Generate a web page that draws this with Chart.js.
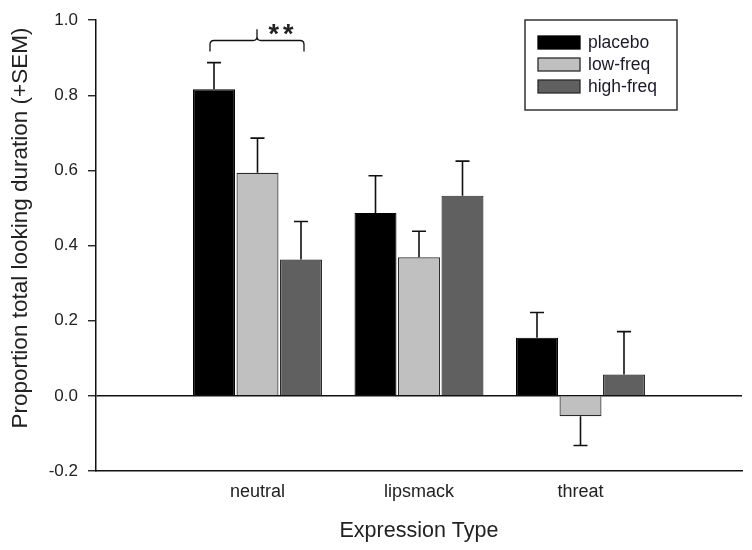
<!DOCTYPE html>
<html>
<head>
<meta charset="utf-8">
<script src="https://cdn.jsdelivr.net/npm/chart.js@4"></script>
<style>
html,body{margin:0;padding:0;background:#fff;}
#wrap{width:752px;height:550px;}
</style>
</head>
<body>
<div id="wrap"><canvas id="c" width="752" height="550"></canvas></div>
<script>
const categories = ['', 'neutral', 'lipsmack', 'threat', ''];
const seriesNames = ['placebo', 'low-freq', 'high-freq'];
const placebo = [null, 0.816, 0.487, 0.155, null];
const lowFreq = [null, 0.594, 0.369, -0.054, null];
const highFreq = [null, 0.363, 0.533, 0.057, null];
const placeboErr = [null, 0.071, 0.099, 0.067, null];
const lowFreqErr = [null, 0.092, 0.069, 0.078, null];
const highFreqErr = [null, 0.101, 0.092, 0.114, null];
const yTicks = [-0.2, 0.0, 0.2, 0.4, 0.6, 0.8, 1.0];
const xTitle = 'Expression Type';
const yTitle = 'Proportion total looking duration (+SEM)';
const sigLabel = '**';
const bracketLevels = {foot: 0.917, bar: 0.946, peak: 0.976};

const fills = ['#000000', '#c0c0c0', '#606060'];
const borders = ['#000000', '#2a2a2a', '#2a2a2a'];
const FONT = '"Liberation Sans", Arial, sans-serif';

const errorBars = {
  id: 'errorBars',
  afterDatasetsDraw(chart) {
    const ctx = chart.ctx, y = chart.scales.y;
    ctx.save();
    ctx.strokeStyle = '#111';
    ctx.lineWidth = 1.6;
    chart.data.datasets.forEach((ds, i) => {
      const meta = chart.getDatasetMeta(i);
      meta.data.forEach((bar, j) => {
        const v = ds.data[j], e = ds.err[j];
        if (v == null || e == null) return;
        const end = y.getPixelForValue(v + (v < 0 ? -e : e));
        ctx.beginPath();
        ctx.moveTo(bar.x, bar.y);
        ctx.lineTo(bar.x, end);
        ctx.moveTo(bar.x - 7, end);
        ctx.lineTo(bar.x + 7, end);
        ctx.stroke();
      });
    });
    ctx.restore();
  }
};

const extras = {
  id: 'extras',
  afterDraw(chart) {
    const ctx = chart.ctx, y = chart.scales.y;
    // y-axis title
    ctx.save();
    ctx.translate(21, 228);
    ctx.rotate(-Math.PI / 2);
    ctx.fillStyle = '#222';
    ctx.font = '22.5px ' + FONT;
    ctx.textAlign = 'center';
    ctx.textBaseline = 'middle';
    ctx.fillText(yTitle, 0, 0);
    ctx.restore();

    // significance bracket
    const xL = chart.getDatasetMeta(0).data[1].x - 4;
    const xR = chart.getDatasetMeta(2).data[1].x + 3;
    const xM = (xL + xR) / 2;
    const yF = y.getPixelForValue(bracketLevels.foot);
    const yB = y.getPixelForValue(bracketLevels.bar);
    const yP = y.getPixelForValue(bracketLevels.peak);
    const r = 4;
    ctx.save();
    ctx.strokeStyle = '#111';
    ctx.lineWidth = 1.3;
    ctx.beginPath();
    ctx.moveTo(xL, yF);
    ctx.lineTo(xL, yB + r);
    ctx.quadraticCurveTo(xL, yB, xL + r, yB);
    ctx.lineTo(xM - r, yB);
    ctx.quadraticCurveTo(xM, yB, xM, yB - r);
    ctx.lineTo(xM, yP);
    ctx.moveTo(xM, yB - r);
    ctx.quadraticCurveTo(xM, yB, xM + r, yB);
    ctx.lineTo(xR - r, yB);
    ctx.quadraticCurveTo(xR, yB, xR, yB + r);
    ctx.lineTo(xR, yF);
    ctx.stroke();
    ctx.fillStyle = '#222';
    ctx.font = 'bold 27px ' + FONT;
    try { ctx.letterSpacing = '4px'; } catch (e) {}
    ctx.textAlign = 'center';
    ctx.textBaseline = 'alphabetic';
    ctx.fillText(sigLabel, xM + 26, yP + 14);
    try { ctx.letterSpacing = '0px'; } catch (e) {}

    // legend
    const lx = 525, ly = 20, lw = 152, lh = 90;
    ctx.fillStyle = '#fff';
    ctx.fillRect(lx, ly, lw, lh);
    ctx.strokeStyle = '#333';
    ctx.lineWidth = 1.5;
    ctx.strokeRect(lx, ly, lw, lh);
    ctx.font = '17.5px ' + FONT;
    ctx.textAlign = 'left';
    ctx.textBaseline = 'middle';
    chart.data.datasets.forEach((ds, i) => {
      const sy = 36 + i * 22;
      ctx.fillStyle = ds.backgroundColor;
      ctx.fillRect(538, sy, 42, 13);
      ctx.strokeStyle = ds.borderColor;
      ctx.lineWidth = 1.3;
      ctx.strokeRect(538, sy, 42, 13);
      ctx.fillStyle = '#1a1a2a';
      ctx.fillText(ds.label, 588, sy + 7);
    });
    ctx.restore();
  }
};

new Chart(document.getElementById('c'), {
  type: 'bar',
  data: {
    labels: categories,
    datasets: [
      {label: seriesNames[0], data: placebo, err: placeboErr, backgroundColor: fills[0], borderColor: borders[0], borderWidth: 1.2},
      {label: seriesNames[1], data: lowFreq, err: lowFreqErr, backgroundColor: fills[1], borderColor: borders[1], borderWidth: 1.2},
      {label: seriesNames[2], data: highFreq, err: highFreqErr, backgroundColor: fills[2], borderColor: borders[2], borderWidth: 1.2}
    ]
  },
  options: {
    responsive: false,
    animation: false,
    devicePixelRatio: 1,
    layout: {padding: {left: 0, right: 10, top: 19, bottom: 0}},
    datasets: {bar: {categoryPercentage: 0.808, barPercentage: 0.965}},
    plugins: {legend: {display: false}, tooltip: {enabled: false}},
    scales: {
      x: {
        type: 'category',
        offset: false,
        grid: {display: false, drawTicks: false},
        border: {display: true, color: '#111', width: 1.5},
        ticks: {color: '#222', font: {family: FONT, size: 18}, padding: 10, maxRotation: 0, autoSkip: false},
        title: {display: true, text: xTitle, color: '#222', font: {family: FONT, size: 21.5}, padding: {top: 0, bottom: 6}},
        afterFit(s) { s.height = 79; }
      },
      y: {
        min: -0.2, max: 1.0,
        afterBuildTicks(s) { s.ticks = yTicks.map(v => ({value: v})); },
        grid: {
          drawOnChartArea: true,
          drawTicks: true,
          tickLength: 8,
          tickColor: '#111',
          tickWidth: 1.3,
          lineWidth: 1.5,
          color: c => (c.tick && Math.abs(c.tick.value) < 1e-9) ? '#111' : 'rgba(0,0,0,0)'
        },
        border: {display: true, color: '#111', width: 1.5},
        ticks: {color: '#222', font: {family: FONT, size: 17}, padding: 10, callback: v => Number(v).toFixed(1)},
        title: {display: false},
        afterFit(s) { s.width = 96; }
      }
    }
  },
  plugins: [errorBars, extras]
});
</script>
</body>
</html>
